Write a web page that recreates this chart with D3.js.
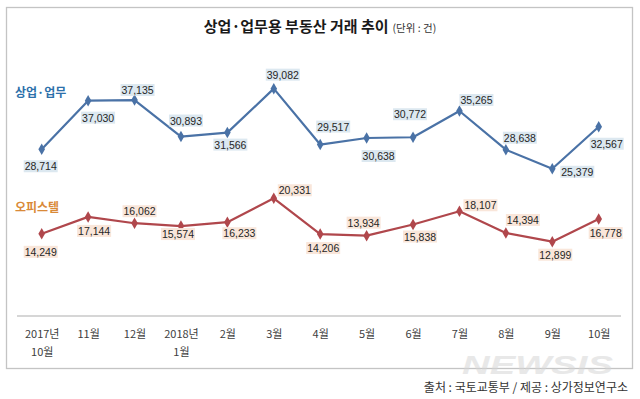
<!DOCTYPE html>
<html>
<head>
<meta charset="utf-8">
<script src="https://cdn.jsdelivr.net/npm/d3@7"></script>
<style>
  html, body { margin: 0; padding: 0; background: #fff; }
  svg { display: block; }
</style>
</head>
<body>
<svg id="chart" width="640" height="399"></svg>
<script>
// ---- data ----
const categories = ["2017년\n10월", "11월", "12월", "2018년\n1월", "2월", "3월", "4월", "5월", "6월", "7월", "8월", "9월", "10월"];
const commercialValues = [28714, 37030, 37135, 30893, 31566, 39082, 29517, 30638, 30772, 35265, 28638, 25379, 32567];
const officetelValues = [14249, 17144, 16062, 15574, 16233, 20331, 14206, 13934, 15838, 18107, 14394, 12899, 16778];
const seriesNames = ["상업·업무", "오피스텔"];
const titleText = "상업·업무용 부동산 거래 추이";
const unitText = "(단위 : 건)";
const sourceText = "출처 : 국토교통부 / 제공 : 상가정보연구소";

// label placement (offset of label centre from its point)
const commercialLabelOffsets = [[-1,17],[10,17],[3,-10],[5,-16],[3,12],[9,-14],[13,-18],[12,18],[-3,-23],[17,-11],[14,-12],[25,3],[8,17]];
const officetelLabelOffsets = [[-1,18],[6,14],[5,-12],[-3,8],[12,11],[21,-8],[3,14],[-3,-13],[7,12],[21,-6],[17,-13],[3,13],[7,14]];

// ---- drawing ----
const svg = d3.select("#chart");
const fmt = d3.format(",");

svg.append("rect").attr("x", 6.5).attr("y", 7.5).attr("width", 626).attr("height", 361)
  .attr("fill", "#fff").attr("stroke", "#c4c4c4").attr("stroke-width", 1.3);

const x = d3.scalePoint().domain(categories).range([41.7, 598.7]);
const y = d3.scaleLinear().domain([0, 40000]).range([317.1, 83.3]);

// title
const title = svg.append("text").attr("x", 320).attr("y", 32).attr("text-anchor", "middle")
  .attr("font-family", "'Noto Sans CJK KR', sans-serif").attr("fill", "#1a1a1a");
title.append("tspan").attr("font-size", 15).attr("font-weight", "bold").text(titleText);
title.append("tspan").attr("font-size", 10.5).attr("dx", 4).attr("fill", "#333").text(unitText);

// axis
svg.append("line").attr("x1", 17).attr("x2", 621).attr("y1", 316).attr("y2", 316)
  .attr("stroke", "#c8c8c8").attr("stroke-width", 1.5);
const axis = svg.append("g").attr("transform", "translate(0,316)")
  .call(d3.axisBottom(x).tickSize(0).tickPadding(0));
axis.select(".domain").remove();
axis.selectAll(".tick text").each(function(d) {
  const t = d3.select(this);
  const lines = d.split("\n");
  t.text(null).attr("y", 0).attr("dy", null)
    .attr("font-family", "'Noto Sans CJK KR', sans-serif").attr("font-size", 11).attr("fill", "#404040");
  lines.forEach((ln, i) => {
    t.append("tspan").attr("x", 0).attr("y", 22 + i * 18.4).text(ln);
  });
});

// watermark
svg.append("text").attr("x", 462).attr("y", 374).attr("textLength", 151).attr("lengthAdjust", "spacingAndGlyphs")
  .attr("font-family", "'Liberation Sans', sans-serif").attr("font-size", 25).attr("font-weight", "bold")
  .attr("font-style", "italic").attr("fill", "#d6d6d6").attr("opacity", 0.55).text("NEWSIS");

// source
svg.append("text").attr("x", 628).attr("y", 391.5).attr("text-anchor", "end")
  .attr("font-family", "'Noto Sans CJK KR', sans-serif").attr("font-size", 12).attr("fill", "#333")
  .text(sourceText);

const series = [
  { name: seriesNames[0], values: commercialValues, offsets: commercialLabelOffsets, color: "#4a72a6", labelBg: "#dce8f0", nameColor: "#2d70aa", nameY: 91 },
  { name: seriesNames[1], values: officetelValues, offsets: officetelLabelOffsets, color: "#b0474c", labelBg: "#f9e6da", nameColor: "#d98a38", nameY: 206 }
];

const line = d3.line().x((d, i) => x(categories[i])).y(d => y(d));

series.forEach(s => {
  svg.append("text").attr("x", 15).attr("y", s.nameY).attr("dominant-baseline", "central")
    .attr("font-family", "'Noto Sans CJK KR', sans-serif").attr("font-size", 12).attr("font-weight", "bold")
    .attr("fill", s.nameColor).text(s.name);

  svg.append("path").datum(s.values).attr("d", line).attr("fill", "none")
    .attr("stroke", s.color).attr("stroke-width", 2.2).attr("stroke-linejoin", "round");

  svg.append("g").selectAll("path").data(s.values).join("path")
    .attr("d", d3.symbol(d3.symbolDiamond, 38))
    .attr("transform", (d, i) => `translate(${x(categories[i])},${y(d)})`)
    .attr("fill", s.color);

  const lg = svg.append("g").selectAll("g").data(s.values).join("g")
    .attr("transform", (d, i) => `translate(${x(categories[i]) + s.offsets[i][0]},${y(d) + s.offsets[i][1]})`);
  lg.append("rect").attr("x", -17).attr("y", -6).attr("width", 34).attr("height", 12).attr("fill", s.labelBg);
  lg.append("text").attr("text-anchor", "middle").attr("dominant-baseline", "central")
    .attr("font-family", "'Liberation Sans', sans-serif").attr("font-size", 10.5).attr("fill", "#262626")
    .text(d => fmt(d));
});
</script>
</body>
</html>
